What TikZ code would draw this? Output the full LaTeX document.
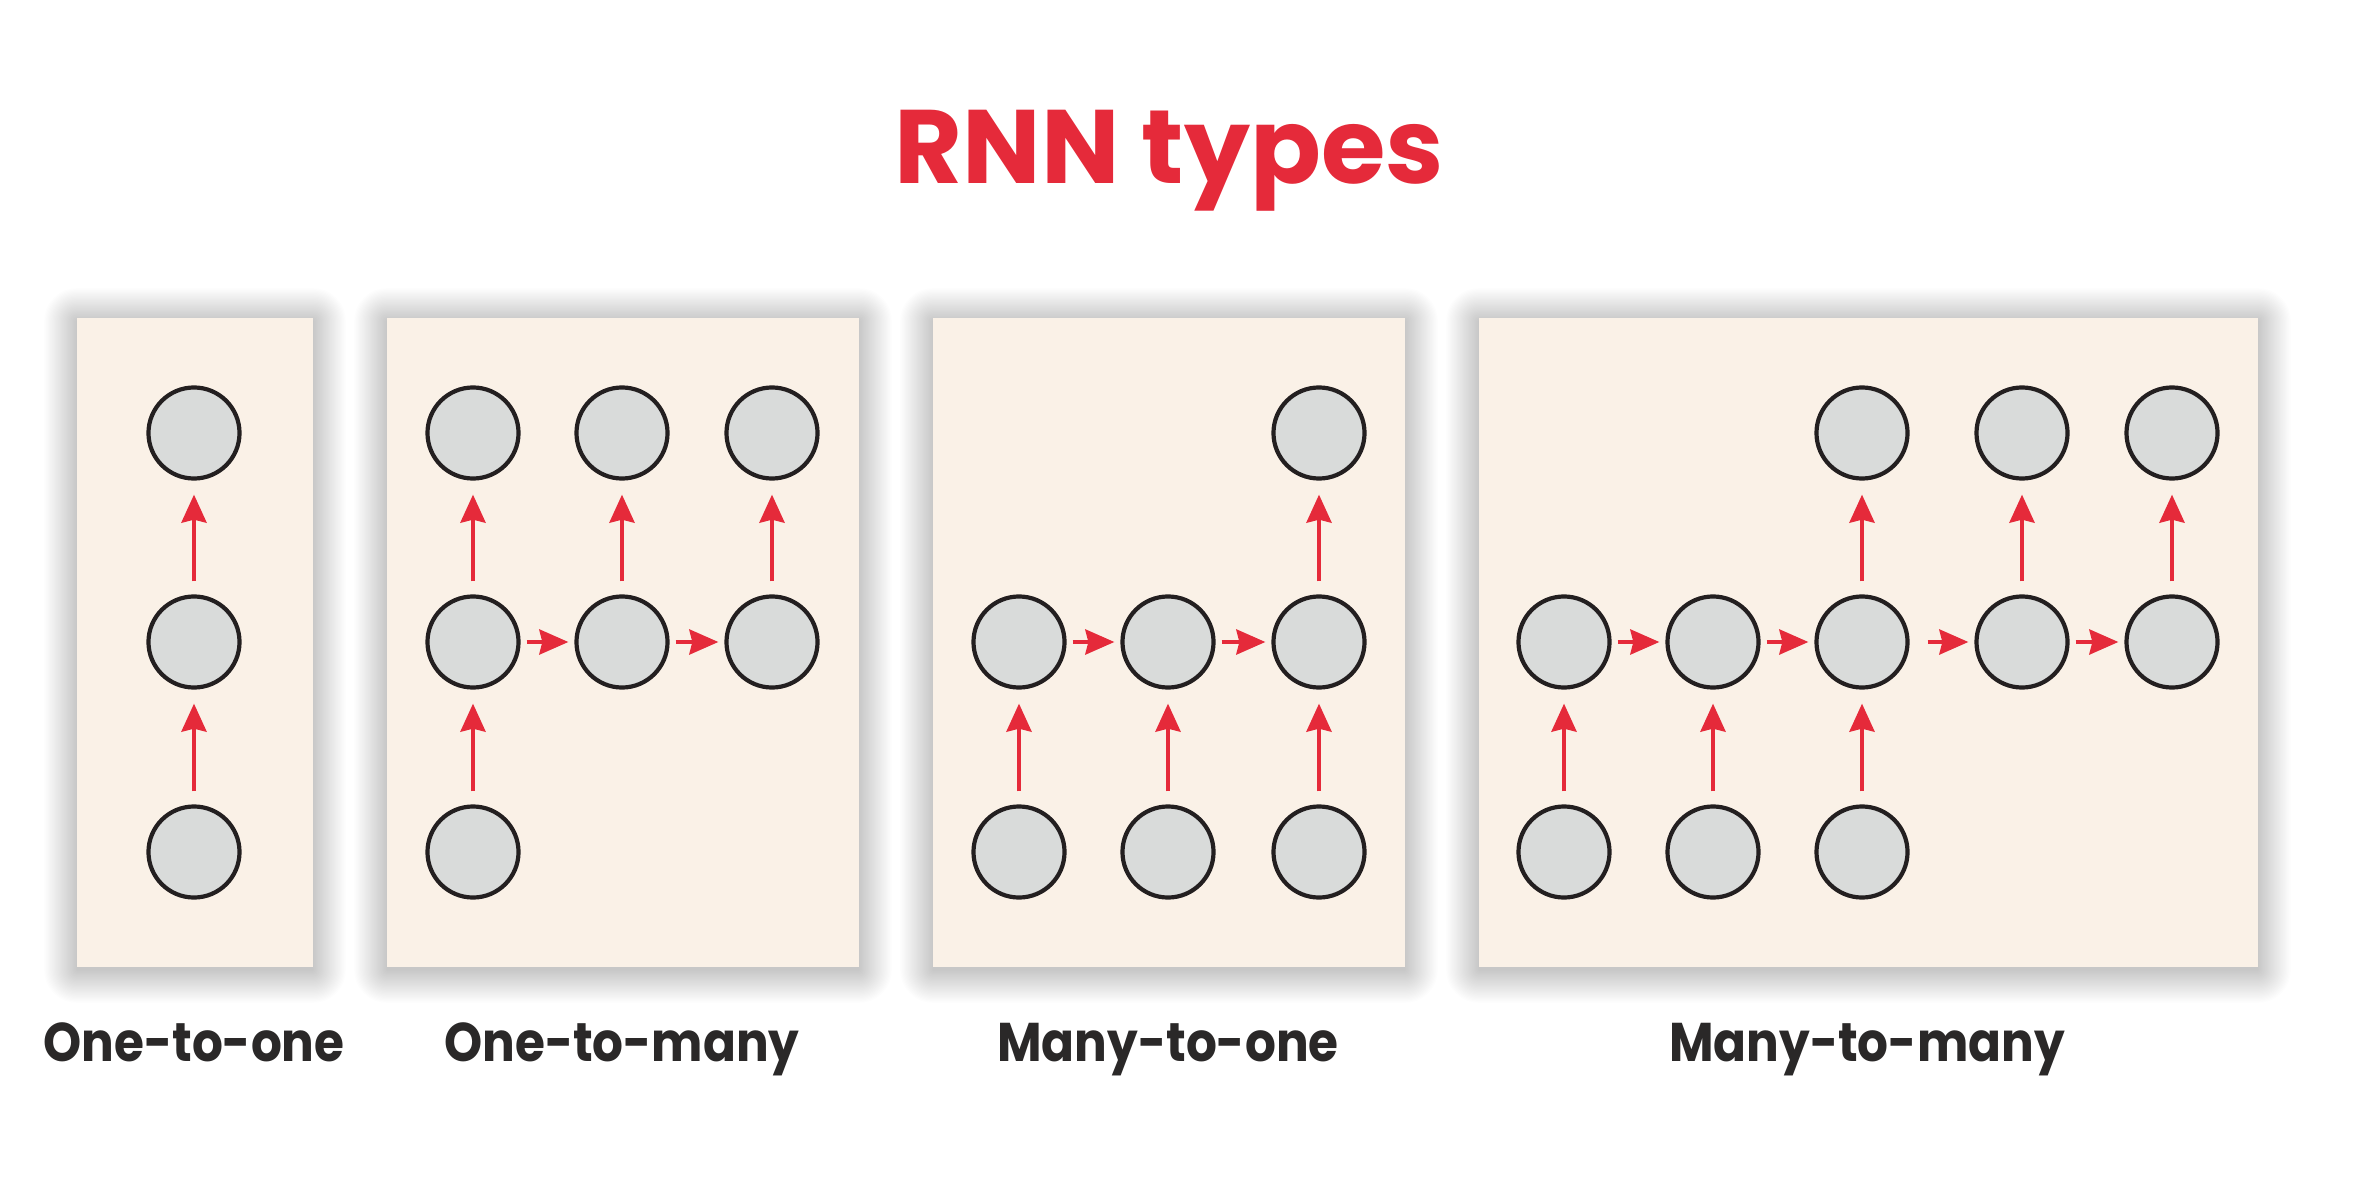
\documentclass[tikz,border=0pt]{standalone}
\usepackage{fontspec}
\setmainfont{Poppins}
\usetikzlibrary{arrows.meta}
\definecolor{cream}{HTML}{FAF1E7}
\definecolor{cellfill}{HTML}{D9DBDA}
\definecolor{cellline}{HTML}{231F20}
\definecolor{rnnred}{HTML}{E52A3A}
\definecolor{labeltext}{HTML}{2A2828}
\tikzset{
  cell/.style={circle, fill=cellfill, draw=cellline, line width=0.042cm, minimum size=0.91cm, inner sep=0pt},
  varr/.style={draw=rnnred, line width=0.04cm, -{Stealth[length=0.28cm, width=0.25cm, inset=0.03cm]}, shorten <=0.13cm, shorten >=0.14cm},
  harr/.style={draw=rnnred, line width=0.04cm, -{Stealth[length=0.29cm, width=0.25cm, inset=0.03cm]}, shorten <=0.06cm, shorten >=0.06cm},
  caplabel/.style={anchor=base, text=labeltext, font=\fontsize{15.5}{18}\selectfont\bfseries, inner sep=0pt, xscale=0.89},
}
\newcommand\shadowpanel[4]{%
  \foreach \k in {1,...,28}{%
    \pgfmathsetmacro\ext{34-1.2*\k}%
    \pgfmathsetmacro\rc{\ext*0.2845}%
    \fill[black, fill opacity=0.0072, rounded corners=\rc pt] ({#1-\ext},{#2-\ext+3}) rectangle ({#3+\ext},{#4+\ext+3});
  }%
  \fill[cream] (#1,#2) rectangle (#3,#4);
}
\begin{document}
\begin{tikzpicture}[x=0.01cm, y=-0.01cm]
\useasboundingbox (0,0) rectangle (2363,1182);
\fill[white] (0,0) rectangle (2363,1182);
% title
\node[anchor=base, text=rnnred, font=\fontsize{29.7}{34}\selectfont\bfseries, inner sep=0pt] (title) at (1169,184) {RNN types};
% panels
\shadowpanel{77}{318}{313}{967}
\shadowpanel{387}{318}{859}{967}
\shadowpanel{933}{318}{1405}{967}
\shadowpanel{1479}{318}{2258}{967}
% panel 1: one-to-one
\node[cell] (a1) at (194,852) {};
\node[cell] (a2) at (194,642) {};
\node[cell] (a3) at (194,433) {};
\draw[varr] (a1) -- (a2);
\draw[varr] (a2) -- (a3);
% panel 2: one-to-many
\node[cell] (b1) at (473,852) {};
\node[cell] (b2) at (473,642) {};
\node[cell] (b3) at (622,642) {};
\node[cell] (b4) at (772,642) {};
\node[cell] (b5) at (473,433) {};
\node[cell] (b6) at (622,433) {};
\node[cell] (b7) at (772,433) {};
\draw[varr] (b1) -- (b2);
\draw[harr] (b2) -- (b3);
\draw[harr] (b3) -- (b4);
\draw[varr] (b2) -- (b5);
\draw[varr] (b3) -- (b6);
\draw[varr] (b4) -- (b7);
% panel 3: many-to-one
\node[cell] (c1) at (1019,852) {};
\node[cell] (c2) at (1168,852) {};
\node[cell] (c3) at (1319,852) {};
\node[cell] (c4) at (1019,642) {};
\node[cell] (c5) at (1168,642) {};
\node[cell] (c6) at (1319,642) {};
\node[cell] (c7) at (1319,433) {};
\draw[varr] (c1) -- (c4);
\draw[varr] (c2) -- (c5);
\draw[varr] (c3) -- (c6);
\draw[harr] (c4) -- (c5);
\draw[harr] (c5) -- (c6);
\draw[varr] (c6) -- (c7);
% panel 4: many-to-many
\node[cell] (d1) at (1564,852) {};
\node[cell] (d2) at (1713,852) {};
\node[cell] (d3) at (1862,852) {};
\node[cell] (d4) at (1564,642) {};
\node[cell] (d5) at (1713,642) {};
\node[cell] (d6) at (1862,642) {};
\node[cell] (d7) at (2022,642) {};
\node[cell] (d8) at (2172,642) {};
\node[cell] (d9) at (1862,433) {};
\node[cell] (d10) at (2022,433) {};
\node[cell] (d11) at (2172,433) {};
\draw[varr] (d1) -- (d4);
\draw[varr] (d2) -- (d5);
\draw[varr] (d3) -- (d6);
\draw[harr] (d4) -- (d5);
\draw[harr] (d5) -- (d6);
\draw[harr, shorten <=0.18cm] (d6) -- (d7);
\draw[harr] (d7) -- (d8);
\draw[varr] (d6) -- (d9);
\draw[varr] (d7) -- (d10);
\draw[varr] (d8) -- (d11);
% labels
\node[caplabel] (l1) at (194,1061) {One-to-one};
\node[caplabel] (l2) at (622,1061) {One-to-many};
\node[caplabel] (l3) at (1168,1061) {Many-to-one};
\node[caplabel] (l4) at (1867,1061) {Many-to-many};
\end{tikzpicture}
\end{document}
